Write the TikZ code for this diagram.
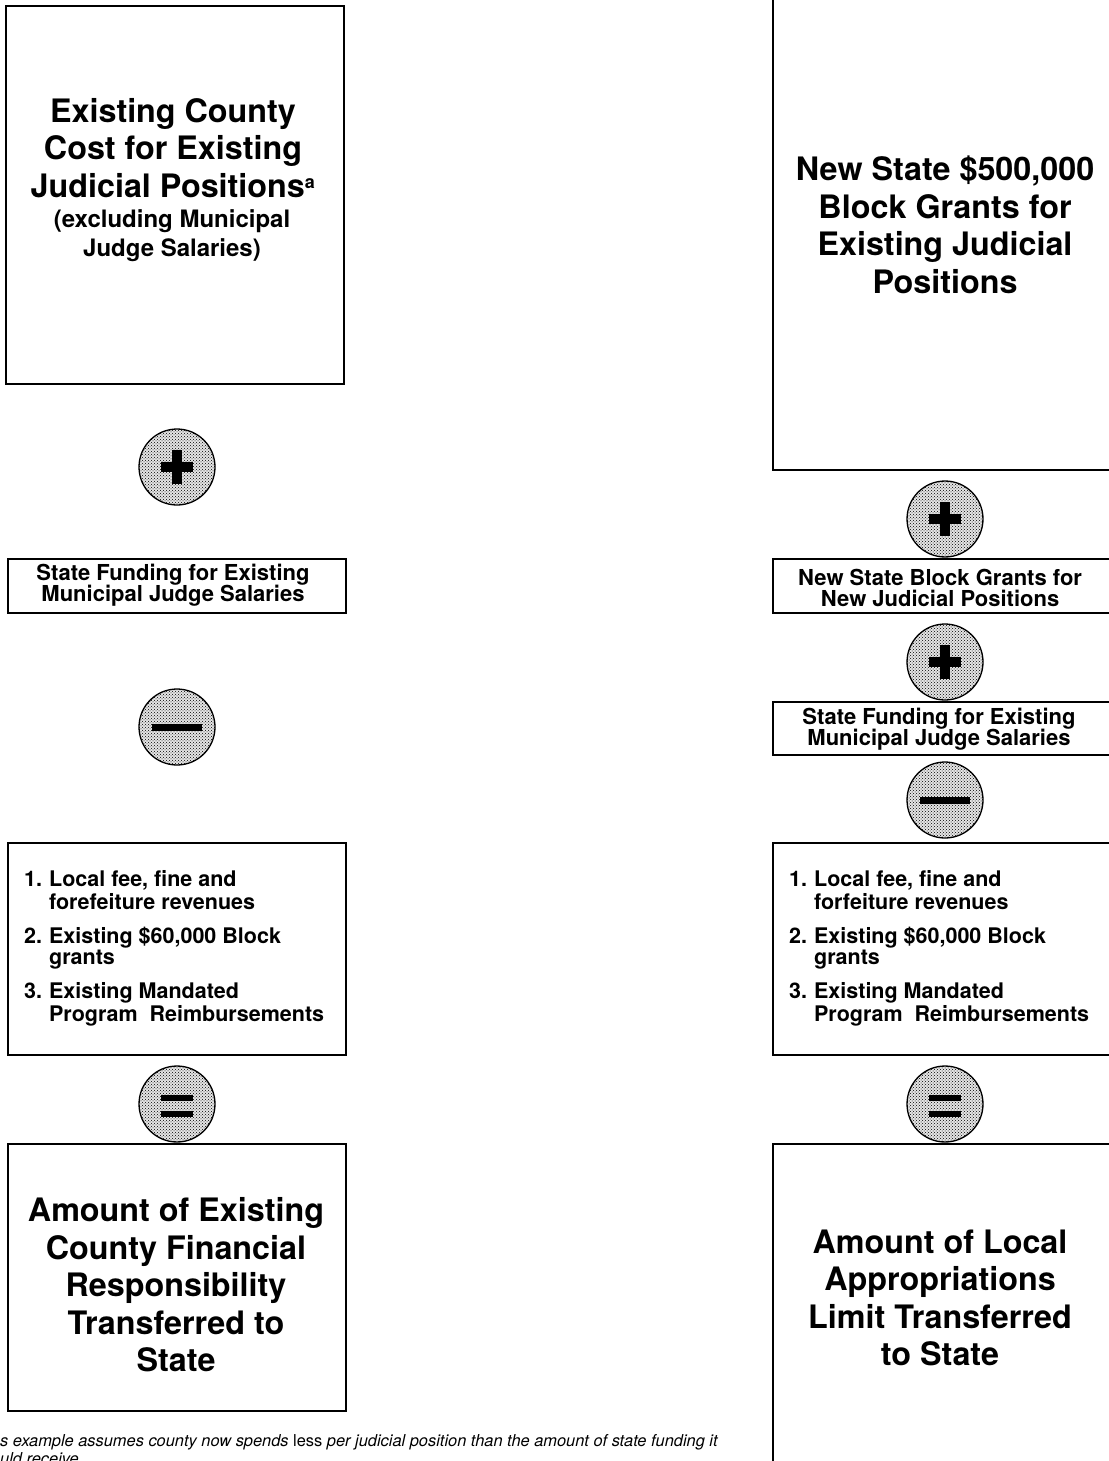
\documentclass[tikz,border=0pt]{standalone}
\usepackage{fontspec}
\setmainfont{TeX Gyre Heros}
\usetikzlibrary{patterns}

\newcommand{\bigfont}{\bfseries\fontsize{32.3}{37.5}\selectfont}
\newcommand{\midfont}{\bfseries\fontsize{24}{29}\selectfont}
\newcommand{\boxfont}{\bfseries\fontsize{22}{21.5}\selectfont}
\newcommand{\listfont}{\bfseries\fontsize{21.5}{21}\selectfont}

\tikzset{
  frame/.style={draw=black, line width=1.3pt},
  opcircle/.style={circle, draw=black, line width=1.3pt, minimum size=76pt, inner sep=0pt,
    preaction={fill=black!10}, pattern=crosshatch dots, pattern color=black},
  bar/.style={line width=#1, line cap=butt},
  bigtext/.style={align=center, font=\bigfont, inner sep=0pt},
  boxtext/.style={align=center, font=\boxfont, inner sep=0pt},
  listitem/.style={anchor=west, font=\listfont, inner sep=0pt}
}
\newcommand{\listentry}[3]{\begin{tabular}{@{}l@{\hspace{7pt}}l@{}}#1&#2\\&#3\end{tabular}}

\begin{document}
\begin{tikzpicture}[x=1pt, y=-1pt]
\useasboundingbox (0,0) rectangle (1108,1461);

% left column
\draw[frame] (6,6) rectangle (344,384);
\draw[frame] (8,559) rectangle (346,613);
\draw[frame] (8,843) rectangle (346,1055);
\draw[frame] (8,1144) rectangle (346,1411);

\node[bigtext] (lcost) at (173,148) {Existing County\\Cost for Existing\\Judicial Positions\textsuperscript{\fontsize{18}{18}\selectfont a}};
\node[align=center, font=\midfont, inner sep=0pt] (lexcl) at (172,236) {(excluding Municipal\\Judge Salaries)};

\node[opcircle] (lplus) at (177,467) {};
\draw[bar=10pt] ([xshift=-16pt]lplus.center) -- ([xshift=16pt]lplus.center);
\draw[bar=10pt] ([yshift=-17pt]lplus.center) -- ([yshift=17pt]lplus.center);

\node[boxtext] (lmuni) at (173,585) {State Funding for Existing\\Municipal Judge Salaries};

\node[opcircle] (lminus) at (177,727) {};
\draw[bar=7pt] ([xshift=-25pt]lminus.center) -- ([xshift=25pt]lminus.center);

\node[listitem] (l1) at (24,893) {\listentry{1.}{Local fee, fine and}{forefeiture revenues}};
\node[listitem] (l2) at (24,949) {\listentry{2.}{Existing \$60,000 Block}{grants}};
\node[listitem] (l3) at (24,1005) {\listentry{3.}{Existing Mandated}{Program~~Reimbursements}};

\node[opcircle] (lequal) at (177,1104) {};
\draw[bar=6.5pt] ([xshift=-16pt,yshift=-10pt]lequal.center) -- ([xshift=16pt,yshift=-10pt]lequal.center);
\draw[bar=6.5pt] ([xshift=-16pt,yshift=6pt]lequal.center) -- ([xshift=16pt,yshift=6pt]lequal.center);

\node[bigtext] (lresult) at (176,1285) {Amount of Existing\\County Financial\\Responsibility\\Transferred to\\State};

% right column
\draw[frame] (773,-10) rectangle (1120,470);
\draw[frame] (773,559) rectangle (1120,613);
\draw[frame] (773,702) rectangle (1120,755);
\draw[frame] (773,843) rectangle (1120,1055);
\draw[frame] (773,1144) rectangle (1120,1475);

\node[bigtext] (rgrant) at (945,225) {New State \$500,000\\Block Grants for\\Existing Judicial\\Positions};

\node[opcircle] (rplusa) at (945,519) {};
\draw[bar=10pt] ([xshift=-16pt]rplusa.center) -- ([xshift=16pt]rplusa.center);
\draw[bar=10pt] ([yshift=-17pt]rplusa.center) -- ([yshift=17pt]rplusa.center);

\node[boxtext] (rnew) at (940,588) {New State Block Grants for\\New Judicial Positions};

\node[opcircle] (rplusb) at (945,662) {};
\draw[bar=10pt] ([xshift=-16pt]rplusb.center) -- ([xshift=16pt]rplusb.center);
\draw[bar=10pt] ([yshift=-17pt]rplusb.center) -- ([yshift=17pt]rplusb.center);

\node[boxtext] (rmuni) at (939,729) {State Funding for Existing\\Municipal Judge Salaries};

\node[opcircle] (rminus) at (945,800) {};
\draw[bar=7pt] ([xshift=-25pt]rminus.center) -- ([xshift=25pt]rminus.center);

\node[listitem] (r1) at (789,893) {\listentry{1.}{Local fee, fine and}{forfeiture revenues}};
\node[listitem] (r2) at (789,949) {\listentry{2.}{Existing \$60,000 Block}{grants}};
\node[listitem] (r3) at (789,1005) {\listentry{3.}{Existing Mandated}{Program~~Reimbursements}};

\node[opcircle] (requal) at (945,1104) {};
\draw[bar=6.5pt] ([xshift=-16pt,yshift=-10pt]requal.center) -- ([xshift=16pt,yshift=-10pt]requal.center);
\draw[bar=6.5pt] ([xshift=-16pt,yshift=6pt]requal.center) -- ([xshift=16pt,yshift=6pt]requal.center);

\node[bigtext] (rresult) at (940,1298) {Amount of Local\\Appropriations\\Limit Transferred\\to State};

% footnote
\node[anchor=west, align=left, inner sep=0pt, font=\fontsize{16.4}{18}\selectfont] (note) at (0,1450)
  {\textit{s example assumes county now spends} less \textit{per judicial position than the amount of state funding it}\\\textit{uld receive.}};
\end{tikzpicture}
\end{document}
